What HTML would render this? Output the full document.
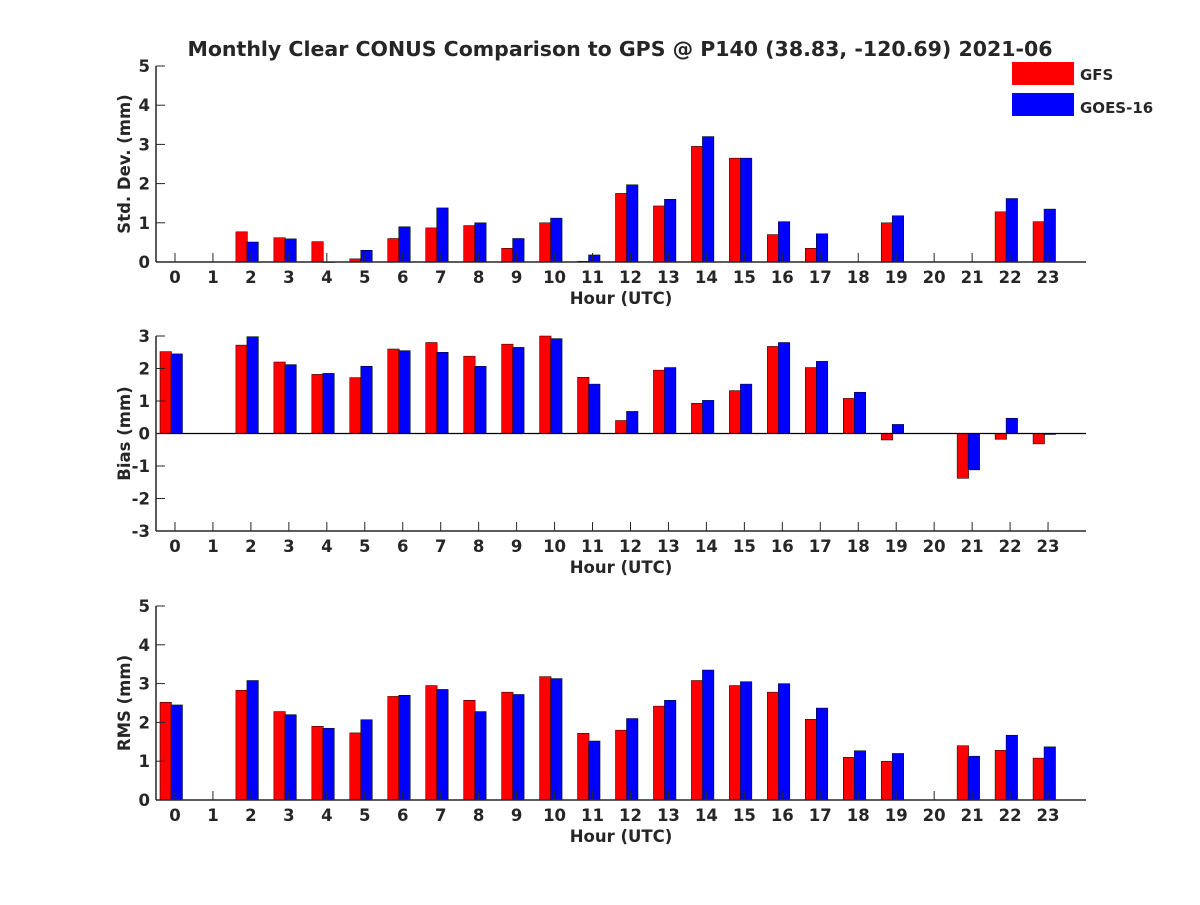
<!DOCTYPE html>
<html><head><meta charset="utf-8"><style>
body{margin:0;background:#fff;}
svg text{font-family:"DejaVu Sans","Liberation Sans",sans-serif;font-weight:bold;fill:#262626;}
</style></head><body>
<svg id="chart" width="1200" height="900" xmlns="http://www.w3.org/2000/svg">
<text x="620" y="56" font-size="20.5" text-anchor="middle" fill="#000">Monthly Clear CONUS Comparison to GPS @ P140 (38.83, -120.69) 2021-06</text>
<g>
<rect x="1012" y="62" width="62" height="23" fill="#ff0000"/>
<text x="1080" y="80" font-size="15">GFS</text>
<rect x="1012" y="93" width="62" height="23" fill="#0000ff"/>
<text x="1080" y="113" font-size="15">GOES-16</text>
</g>
</svg>
<script>
const hours = [0,1,2,3,4,5,6,7,8,9,10,11,12,13,14,15,16,17,18,19,20,21,22,23];
const stdGFS = [null,null,0.77,0.62,0.52,0.08,0.6,0.87,0.93,0.35,1.0,0.02,1.75,1.43,2.95,2.65,0.7,0.35,null,1.0,null,null,1.28,1.03];
const stdGOES = [null,null,0.51,0.59,0,0.3,0.9,1.38,1.0,0.6,1.12,0.18,1.97,1.6,3.2,2.65,1.03,0.72,null,1.18,null,null,1.62,1.35];
const biasGFS = [2.52,null,2.72,2.2,1.82,1.72,2.6,2.8,2.38,2.75,3.0,1.73,0.4,1.95,0.93,1.32,2.68,2.03,1.08,-0.2,null,-1.38,-0.18,-0.32];
const biasGOES = [2.45,null,2.98,2.12,1.85,2.07,2.55,2.5,2.07,2.65,2.92,1.52,0.68,2.03,1.02,1.52,2.8,2.22,1.27,0.28,null,-1.12,0.47,-0.03];
const rmsGFS = [2.52,null,2.83,2.28,1.9,1.73,2.67,2.95,2.57,2.78,3.18,1.72,1.8,2.42,3.08,2.95,2.78,2.08,1.1,1.0,null,1.4,1.28,1.08];
const rmsGOES = [2.45,null,3.08,2.2,1.85,2.07,2.7,2.85,2.28,2.72,3.13,1.52,2.1,2.57,3.35,3.05,3.0,2.37,1.27,1.2,null,1.13,1.67,1.37];
const stdTicks = [0,1,2,3,4,5];
const biasTicks = [-3,-2,-1,0,1,2,3];
const rmsTicks = [0,1,2,3,4,5];

const svg = document.getElementById('chart');
const NS = 'http://www.w3.org/2000/svg';
function mk(tag, attrs, parent){const e=document.createElementNS(NS,tag);for(const k in attrs)e.setAttribute(k,attrs[k]);(parent||svg).appendChild(e);return e;}
const X0=156, X1=1086, XMIN=-0.5, XMAX=24;
const xs = h => X0 + (h - XMIN) * (X1 - X0) / (XMAX - XMIN);

function panel(name, yTop, yBot, ymin, ymax, ticks, red, blue, ylabel){
  const g = mk('g', {});
  
  
  const ys = v => yBot - (v - ymin) * (yBot - yTop) / (ymax - ymin);
  hours.forEach((h,i)=>{
    const t = xs(h);
    [[red[i], t-15, '#ff0000', 'gfs'], [blue[i], t-4, '#0000ff', 'goes']].forEach(([v,x,c,s])=>{
      if(v===null) return;
      const y0 = ys(0), y1 = ys(v);
      const r = mk('rect', {x:x, y:Math.min(y0,y1), width:11.5, height:Math.max(0.5,Math.abs(y1-y0)), fill:c, stroke:'#000', 'stroke-width':0.5}, g);
      
      
    });
  });
  if(ymin < 0){
    const z = mk('line', {x1:X0, x2:X1, y1:ys(0), y2:ys(0), stroke:'#000', 'stroke-width':1.2}, g);
    
    
  }
  const xa = mk('line', {x1:X0, x2:X1, y1:yBot, y2:yBot, stroke:'#262626', 'stroke-width':1.5}, g);
  
  
  const ya = mk('line', {x1:X0, x2:X0, y1:yTop, y2:yBot, stroke:'#262626', 'stroke-width':1.5}, g);
  
  
  hours.forEach(h=>{
    const t = xs(h);
    mk('line', {x1:t, x2:t, y1:yBot, y2:yBot-9, stroke:'#262626', 'stroke-width':1}, g);
    const tl = mk('text', {x:t, y:yBot+21, 'font-size':16.5, 'text-anchor':'middle'}, g);
    tl.textContent = h;
    
    
  });
  ticks.forEach(v=>{
    const y = ys(v);
    mk('line', {x1:X0, x2:X0+9, y1:y, y2:y, stroke:'#262626', 'stroke-width':1}, g);
    const tl = mk('text', {x:X0-6, y:y+6, 'font-size':16.5, 'text-anchor':'end'}, g);
    tl.textContent = v;
    
    
  });
  const xt = mk('text', {x:621, y:yBot+42, 'font-size':16.5, 'text-anchor':'middle'}, g);
  xt.textContent = 'Hour (UTC)';
  
  
  const cy = (yTop+yBot)/2;
  const yt = mk('text', {x:0, y:0, 'font-size':16.5, 'text-anchor':'middle', transform:'translate(130,'+cy+') rotate(-90)'}, g);
  yt.textContent = ylabel;
  
  
}
panel('std-dev', 66, 262, 0, 5, stdTicks, stdGFS, stdGOES, 'Std. Dev. (mm)');
panel('bias', 336, 531, -3, 3, biasTicks, biasGFS, biasGOES, 'Bias (mm)');
panel('rms', 606, 800, 0, 5, rmsTicks, rmsGFS, rmsGOES, 'RMS (mm)');
</script>
</body></html>
